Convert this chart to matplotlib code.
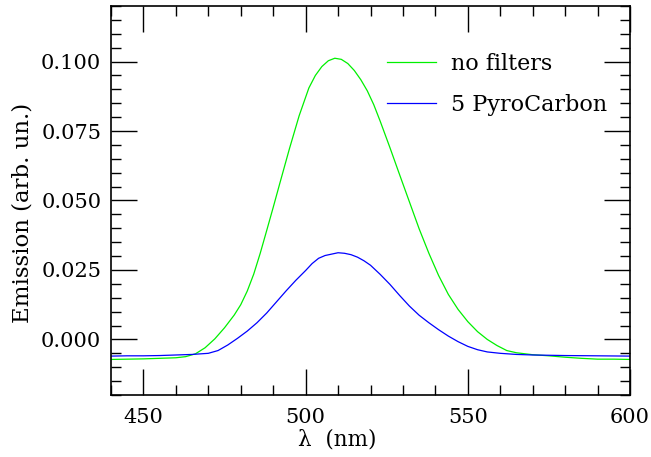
import matplotlib
matplotlib.use("Agg")
import matplotlib.pyplot as plt
from matplotlib.ticker import MultipleLocator, FormatStrFormatter

wl_green = [440, 445, 450, 455, 460, 463, 466, 469, 472, 475, 478, 480, 482, 484, 486,
            488, 490, 492, 495, 498, 501, 503, 505, 507, 509, 511, 513, 515, 517, 519,
            521, 523, 526, 529, 532, 535, 538, 541, 544, 547, 550, 553, 556, 559, 562,
            565, 570, 575, 580, 585, 590, 595, 600]
em_green = [-0.0072, -0.0071, -0.0070, -0.0068, -0.0066, -0.0062, -0.0052, -0.0030, 0.0002,
            0.0042, 0.0088, 0.0125, 0.0174, 0.0235, 0.0310, 0.0392, 0.0475, 0.0560, 0.0686,
            0.0805, 0.0905, 0.0950, 0.0982, 0.1003, 0.1012, 0.1008, 0.0993, 0.0968, 0.0935,
            0.0895, 0.0845, 0.0785, 0.0690, 0.0592, 0.0495, 0.0398, 0.0310, 0.0230, 0.0162,
            0.0108, 0.0064, 0.0028, 0.0000, -0.0022, -0.0040, -0.0048, -0.0055, -0.0059,
            -0.0064, -0.0068, -0.0071, -0.0071, -0.0072]

wl_blue = [440, 445, 450, 455, 460, 465, 470, 473, 476, 479, 482, 485, 488, 491, 494, 497,
           500, 502, 504, 506, 508, 510, 512, 514, 516, 518, 520, 523, 526, 529, 532, 535,
           538, 541, 544, 547, 550, 553, 556, 560, 565, 570, 575, 580, 590, 600]
em_blue = [-0.0060, -0.0059, -0.0059, -0.0058, -0.0056, -0.0054, -0.0050, -0.0040, -0.0020,
           0.0004, 0.0030, 0.0060, 0.0095, 0.0135, 0.0175, 0.0213, 0.0248, 0.0273, 0.0292,
           0.0302, 0.0307, 0.0312, 0.0310, 0.0305, 0.0296, 0.0283, 0.0267, 0.0234, 0.0198,
           0.0158, 0.0120, 0.0087, 0.0060, 0.0035, 0.0012, -0.0008, -0.0025, -0.0037,
           -0.0045, -0.0050, -0.0054, -0.0056, -0.0057, -0.0058, -0.0059, -0.0060]

labels = ["no filters", "5 PyroCarbon"]
colors = ["#00f000", "#0000ff"]

plt.rcParams['font.family'] = ['DejaVu Serif']
fs = 15

fig = plt.figure(figsize=(6.51, 4.57), dpi=100)
ax = fig.add_axes([111/651, 1-395/457, (630-111)/651, (395-6)/457])

ax.plot(wl_green, em_green, color=colors[0], lw=0.9, label=labels[0])
ax.plot(wl_blue, em_blue, color=colors[1], lw=0.9, label=labels[1])

ax.set_xlim(440, 600)
ax.set_ylim(-0.02, 0.12)
ax.xaxis.set_major_locator(MultipleLocator(50))
ax.xaxis.set_minor_locator(MultipleLocator(10))
ax.yaxis.set_major_locator(MultipleLocator(0.025))
ax.yaxis.set_minor_locator(MultipleLocator(0.005))
ax.yaxis.set_major_formatter(FormatStrFormatter('%.3f'))

ax.tick_params(which='both', direction='in', top=True, right=True, colors='black',
               labelsize=fs)
ax.tick_params(which='major', length=19, width=1.0)
ax.tick_params(which='minor', length=7, width=1.0)
ax.tick_params(axis='x', which='major', pad=9.5)
ax.tick_params(axis='y', which='major', pad=7)
for s in ax.spines.values():
    s.set_linewidth(1.2)

ax.set_xlabel("λ  (nm)", fontsize=15.5)
ax.set_ylabel("Emission (arb. un.)", fontsize=16.5)
ax.xaxis.set_label_coords(0.435, -0.085)
ax.yaxis.set_label_coords(-0.150, 0.468)

leg = ax.legend(loc='upper left', bbox_to_anchor=(0.515, 0.902), frameon=False,
                fontsize=16, handlelength=2.2, handletextpad=0.68, labelspacing=0.84,
                borderaxespad=0.0)

fig.savefig("out.png", dpi=100)
